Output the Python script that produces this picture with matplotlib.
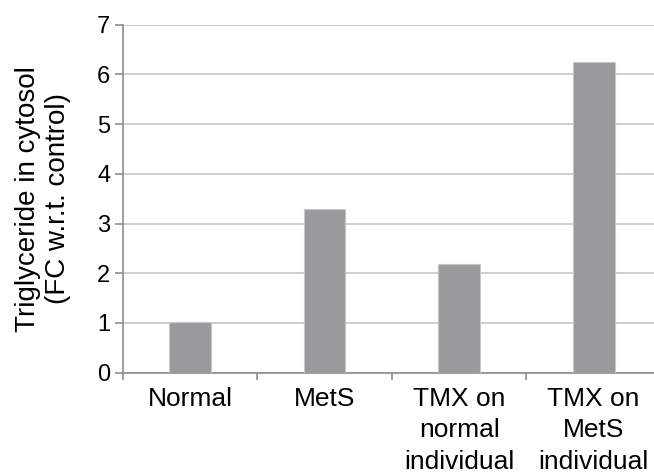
import matplotlib
matplotlib.use("Agg")
import matplotlib.pyplot as plt
import numpy as np

categories = ["Normal", "MetS", "TMX on\nnormal\nindividual", "TMX on\nMetS\nindividual"]
values = [1.02, 3.29, 2.18, 6.25]
yticks = [0, 1, 2, 3, 4, 5, 6, 7]

plt.rcParams['font.family'] = ['Liberation Sans', 'DejaVu Sans']

fig = plt.figure(figsize=(6.54, 4.73), dpi=100)
ax = fig.add_axes([0.1876, 0.212, 0.823, 0.736])

x = np.arange(len(categories))
ax.bar(x, values, width=0.31, color='#98999c', edgecolor='#c8c8ca', linewidth=0.8, zorder=3)

ax.set_xlim(-0.5, len(categories) - 0.5)
ax.set_ylim(0, 7)
ax.set_yticks(yticks)
ax.set_yticklabels([str(t) for t in yticks], fontsize=17)
ax.yaxis.grid(True, color='#c6c6c6', linewidth=1.2, zorder=0)
ax.set_axisbelow(True)

ax.set_xticks(x)
ax.set_xticklabels(categories, fontsize=19, linespacing=1.4, va='top')
ax.tick_params(axis='x', which='major', length=0, pad=10)
ax.set_xticks(np.arange(-0.5, len(categories), 1.0), minor=True)
ax.tick_params(axis='x', which='minor', length=5, width=1.2, color='#8c8c8c')
ax.tick_params(axis='y', length=5.5, width=1.2, color='#8c8c8c', pad=3.5)

for s in ['top', 'right']:
    ax.spines[s].set_visible(False)
for s in ['left', 'bottom']:
    ax.spines[s].set_color('#8c8c8c')
    ax.spines[s].set_linewidth(1.2)

ax.set_ylabel("Triglyceride in cytosol\n(FC w.r.t. control)", fontsize=20, linespacing=1.2, labelpad=19)

fig.savefig("out.png", dpi=100)
